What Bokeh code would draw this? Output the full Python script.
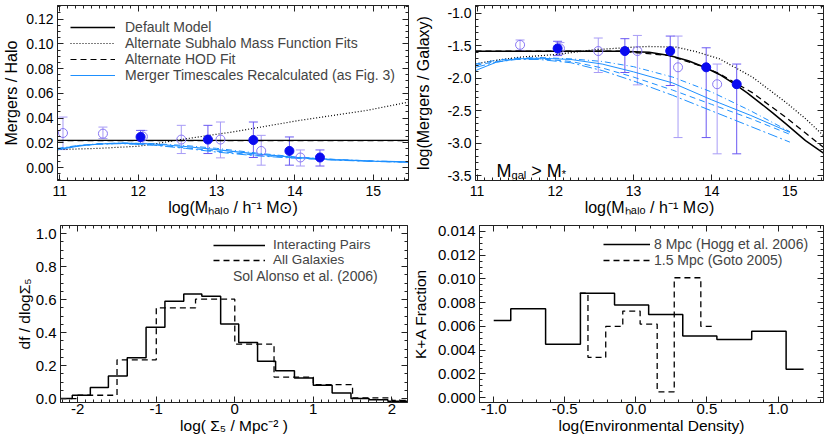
import numpy as np
from bokeh.plotting import figure
from bokeh.models import (ColumnDataSource, Whisker, TeeHead, Label, Legend, LegendItem,
                          FixedTicker, PrintfTickFormatter, LinearAxis, Range1d)
from bokeh.layouts import row, column
from bokeh.embed import file_html
from bokeh.resources import INLINE

# ====================== data ======================
# ---- Panel 1: Mergers / Halo vs log(M_halo)
p1_line_x = [10.97, 15.45]
p1_default_y = [0.0220, 0.0220]
p1_hod_y = [0.0216, 0.0216]
p1_sub_x = [10.97, 11.5, 12.0, 12.25, 12.5, 13.2, 14.06, 14.92, 15.45]
p1_sub_y = [0.0145, 0.0155, 0.0172, 0.0195, 0.0222, 0.0287, 0.0381, 0.0462, 0.0529]
p1_tau_x = [10.97, 11.25, 11.5, 11.8, 12.2, 12.6, 13.0, 13.5, 14.0, 14.5, 15.0, 15.45]
p1_tau_a = [0.0145, 0.0175, 0.0190, 0.0198, 0.0190, 0.0170, 0.0145, 0.0110, 0.0082, 0.0064, 0.0052, 0.0045]
p1_tau_b = [0.0155, 0.0180, 0.0193, 0.0198, 0.0193, 0.0178, 0.0155, 0.0118, 0.0086, 0.0066, 0.0053, 0.0045]
p1_tau_c = [0.0150, 0.0178, 0.0190, 0.0195, 0.0183, 0.0160, 0.0132, 0.0100, 0.0078, 0.0062, 0.0050, 0.0043]
p1_tau_d = [0.0148, 0.0176, 0.0189, 0.0193, 0.0180, 0.0155, 0.0125, 0.0095, 0.0075, 0.0060, 0.0049, 0.0042]
p1_fill_x = [12.03, 12.89, 13.47, 13.93, 14.32]
p1_fill_y = [0.0247, 0.0226, 0.0222, 0.0134, 0.0081]
p1_fill_hi = [0.0300, 0.0341, 0.0368, 0.0247, 0.0142]
p1_fill_lo = [0.0193, 0.0113, 0.0081, 0.0019, 0.0012]
p1_open_x = [11.04, 11.55, 12.06, 12.55, 13.05, 13.57, 14.07]
p1_open_y = [0.0279, 0.0274, 0.0250, 0.0226, 0.0226, 0.0134, 0.0081]
p1_open_hi = [0.0408, 0.0327, 0.0300, 0.0341, 0.0368, 0.0260, 0.0142]
p1_open_lo = [0.0145, 0.0234, 0.0195, 0.0113, 0.0078, 0.0019, 0.0012]

# ---- Panel 2: log(Mergers / Galaxy) vs log(M_halo)
p2_def_x = [10.98, 11.5, 12.0, 12.5, 12.83, 13.2, 13.46, 13.7, 13.91, 14.1, 14.29, 14.45, 14.61, 14.78, 14.95, 15.2, 15.43]
p2_def_y = [-1.583, -1.583, -1.583, -1.583, -1.583, -1.60, -1.649, -1.73, -1.829, -1.94, -2.085, -2.22, -2.368, -2.53, -2.70, -2.957, -3.15]
p2_hod_x = [10.98, 12.0, 12.83, 13.46, 13.91, 14.1, 14.52, 14.95, 15.2, 15.43]
p2_hod_y = [-1.583, -1.583, -1.583, -1.649, -1.829, -1.93, -2.22, -2.60, -2.84, -3.06]
p2_sub_x = [10.98, 11.22, 11.54, 12.0, 12.5, 13.0, 13.2, 13.55, 13.8, 14.1, 14.52, 14.95, 15.2, 15.43]
p2_sub_y = [-1.777, -1.726, -1.675, -1.634, -1.56, -1.52, -1.51, -1.52, -1.59, -1.70, -1.98, -2.37, -2.62, -2.88]
p2_tau_x = [10.98, 11.25, 11.5, 11.8, 12.2, 12.6, 13.0, 13.5, 14.0, 14.5, 15.0]
p2_tau_a = [-1.88, -1.75, -1.70, -1.69, -1.71, -1.78, -1.90, -2.07, -2.33, -2.57, -2.83]
p2_tau_b = [-1.78, -1.72, -1.69, -1.68, -1.70, -1.74, -1.82, -1.98, -2.21, -2.50, -2.82]
p2_tau_c = [-1.80, -1.74, -1.70, -1.70, -1.74, -1.84, -1.98, -2.18, -2.40, -2.62, -2.86]
p2_tau_d = [-1.83, -1.75, -1.71, -1.71, -1.76, -1.88, -2.04, -2.26, -2.50, -2.74, -2.98]
p2_fill_x = [12.03, 12.89, 13.47, 13.93, 14.32]
p2_fill_y = [-1.54, -1.58, -1.58, -1.83, -2.09]
p2_fill_hi = [-1.43, -1.39, -1.35, -1.53, -1.78]
p2_fill_lo = [-1.65, -1.91, -2.11, -2.91, -3.16]
p2_open_x = [11.55, 12.06, 12.55, 13.05, 13.57, 14.07]
p2_open_y = [-1.485, -1.54, -1.58, -1.58, -1.83, -2.09]
p2_open_hi = [-1.41, -1.45, -1.38, -1.34, -1.35, -1.78]
p2_open_lo = [-1.57, -1.63, -1.91, -2.10, -2.91, -3.16]

# ---- Panel 3: df/dlogSigma5 histograms
p3_pairs_edges = [-2.22, -2.07, -1.84, -1.61, -1.37, -1.13, -0.89, -0.65, -0.42, -0.18, 0.05,
                  0.29, 0.52, 0.76, 1.00, 1.24, 1.48, 1.71, 1.95, 2.20]
p3_pairs_vals = [0.0, 0.02, 0.067, 0.137, 0.247, 0.432, 0.59, 0.635, 0.62, 0.452,
                 0.34, 0.226, 0.168, 0.125, 0.08, 0.034, 0.0, -0.007, -0.016]
p3_all_edges = [-2.22, -2.0, -1.5, -1.0, -0.5, 0.0, 0.5, 1.0, 1.5, 2.0, 2.2]
p3_all_vals = [0.0, 0.02, 0.235, 0.55, 0.603, 0.33, 0.13, 0.084, 0.004, -0.012]

# ---- Panel 4: K+A fraction vs environmental density
p4_hogg_edges = [-1.0, -0.88, -0.635, -0.39, -0.15, 0.09, 0.33, 0.57, 0.815, 1.057, 1.18]
p4_hogg_vals = [0.0065, 0.0075, 0.0045, 0.0088, 0.0078, 0.0070, 0.0052, 0.0049, 0.0056, 0.0024]
p4_goto_edges = [-0.395, -0.337, -0.212, -0.092, 0.03, 0.15, 0.27, 0.457, 0.557]
p4_goto_vals = [0.0088, 0.0034, 0.0060, 0.0073, 0.0062, 0.0005, 0.0101, 0.0060]

# ====================== styling ======================
FONT = "Liberation Sans"
AXC = "#222222"
BLUE = "#1E90FF"
PT_FILL = "#0A0AF0"
BAR_FILL = "#6A58F2"
PT_OPEN = "#8877F4"
BAR_OPEN = "#A89CF6"

W = {' ': .278, '*': .389, '>': .584, 'M': .833, 'a': .556, 'g': .556, 'l': .222}


def tw(s, size):
    return sum(W.get(ch, .556) for ch in s) * size


def rich(p, x, y, pieces):
    pos = 0.0
    for t, s, r in pieces:
        lead = len(t) - len(t.lstrip(" "))
        start = pos + tw(" " * lead, s)
        p.add_layout(Label(x=x, y=y, x_offset=start, y_offset=r, text=t.strip(" "),
                           text_font=FONT, text_font_size=f"{s}px", text_align="left",
                           text_baseline="alphabetic", text_color="black"))
        pos += tw(t, s)


def style_axis(ax, ticks, minor, fmt, size, standoff, show=True):
    ax.ticker = FixedTicker(ticks=ticks, minor_ticks=minor)
    ax.formatter = PrintfTickFormatter(format=fmt)
    ax.major_tick_in = 6
    ax.major_tick_out = 0
    ax.minor_tick_in = 3
    ax.minor_tick_out = 0
    ax.axis_line_color = AXC
    ax.major_tick_line_color = AXC
    ax.minor_tick_line_color = AXC
    ax.major_label_text_font = FONT
    if show:
        ax.major_label_text_font_size = f"{size}px"
        ax.major_label_text_color = "black"
        ax.major_label_standoff = standoff
    else:
        ax.major_label_text_font_size = "1px"
        ax.major_label_text_color = None
        ax.major_label_text_alpha = 0
        ax.major_label_standoff = 0


def set_title(ax, text, size, standoff):
    ax.axis_label = text
    ax.axis_label_text_font = FONT
    ax.axis_label_text_font_style = "normal"
    ax.axis_label_text_font_size = f"{size}px"
    ax.axis_label_text_color = "black"
    ax.axis_label_standoff = standoff


def make_fig(width, height, xr, yr, bl, br, bt, bb, xt, xm, xf, yt, ym, yf, fs, xso, yso):
    p = figure(width=width, height=height, x_range=Range1d(*xr), y_range=Range1d(*yr),
               output_backend="svg", toolbar_location=None,
               min_border_left=bl, min_border_right=br, min_border_top=bt, min_border_bottom=bb)
    p.xgrid.visible = False
    p.ygrid.visible = False
    p.outline_line_color = AXC
    p.background_fill_color = "white"
    p.border_fill_color = "white"
    bottom, left = p.below[0], p.left[0]
    style_axis(bottom, xt, xm, xf, fs, xso)
    style_axis(left, yt, ym, yf, fs, yso)
    top = LinearAxis()
    style_axis(top, xt, xm, xf, fs, 0, show=False)
    p.add_layout(top, "above")
    right = LinearAxis()
    style_axis(right, yt, ym, yf, fs, 0, show=False)
    p.add_layout(right, "right")
    return p, bottom, left


def errbars(p, xs, ys, hi, lo, pt_color, bar_color, filled):
    src = ColumnDataSource(dict(x=xs, y=ys, hi=hi, lo=lo))
    p.add_layout(Whisker(source=src, base="x", upper="hi", lower="lo",
                         line_color=bar_color, line_width=1,
                         upper_head=TeeHead(size=9, line_color=bar_color, line_width=1),
                         lower_head=TeeHead(size=9, line_color=bar_color, line_width=1)))
    if filled:
        p.scatter("x", "y", source=src, size=9, marker="circle",
                  fill_color=pt_color, line_color=pt_color)
    else:
        p.scatter("x", "y", source=src, size=9, marker="circle",
                  fill_color=None, line_color=pt_color, line_width=1)


def make_legend(items, loc, gw, standoff, fsize, spacing):
    return Legend(items=items, location=loc, margin=0, padding=0, spacing=spacing,
                  glyph_width=gw, glyph_height=10, label_height=10, label_width=10,
                  label_standoff=standoff, label_text_font=FONT,
                  label_text_font_size=fsize, border_line_color=None,
                  background_fill_alpha=0, inactive_fill_alpha=0)


TOP_H, BOT_H = 220, 223
MHALO = "log(M\u2095\u2090\u2097\u2092 / h\u207b\u00b9 M\u2299)"

# ---------------- Panel 1 ----------------
p1_xr = (10.97, 15.45)
p1_yr = (-0.0105, 0.131)
p1, p1b, p1l = make_fig(410, TOP_H, p1_xr, p1_yr, 57, 2, 5, 40,
                        [11, 12, 13, 14, 15], list(np.arange(11.0, 15.45, 0.1)), "%d",
                        [0.0, 0.02, 0.04, 0.06, 0.08, 0.10, 0.12],
                        list(np.arange(-0.01, 0.131, 0.005)), "%.2f", 14, 5, 4)
set_title(p1b, MHALO, 16, 0)
set_title(p1l, "Mergers / Halo", 16, 3)
r1_def = p1.line(p1_line_x, p1_default_y, line_color="black", line_width=1.3)
r1_hod = p1.line(p1_line_x, p1_hod_y, line_color="black", line_width=1.1, line_dash="6 4")
r1_sub = p1.line(p1_sub_x, p1_sub_y, line_color="black", line_width=1.2, line_dash="1 2")
r1_ta = p1.line(p1_tau_x, p1_tau_a, line_color=BLUE, line_width=1.2)
p1.line(p1_tau_x, p1_tau_b, line_color=BLUE, line_width=1, line_dash="6 3 1 3")
p1.line(p1_tau_x, p1_tau_c, line_color=BLUE, line_width=1, line_dash="6 4")
p1.line(p1_tau_x, p1_tau_d, line_color=BLUE, line_width=1, line_dash="10 3 2 3")
errbars(p1, p1_open_x, p1_open_y, p1_open_hi, p1_open_lo, PT_OPEN, BAR_OPEN, False)
errbars(p1, p1_fill_x, p1_fill_y, p1_fill_hi, p1_fill_lo, PT_FILL, BAR_FILL, True)
p1.add_layout(make_legend(
    [LegendItem(label="Default Model", renderers=[r1_def]),
     LegendItem(label="Alternate Subhalo Mass Function Fits", renderers=[r1_sub]),
     LegendItem(label="Alternate HOD Fit", renderers=[r1_hod]),
     LegendItem(label="Merger Timescales Recalculated (as Fig. 3)", renderers=[r1_ta])],
    (13, 97), 45, 10, "14px", 0))

# ---------------- Panel 2 ----------------
p2_xr = (10.98, 15.43)
p2_yr = (-3.57, -0.88)
p2, p2b, p2l = make_fig(420, TOP_H, p2_xr, p2_yr, 65, 7, 5, 40,
                        [11, 12, 13, 14, 15], list(np.arange(11.0, 15.43, 0.1)), "%d",
                        [-3.5, -3.0, -2.5, -2.0, -1.5, -1.0],
                        list(np.arange(-3.5, -0.88, 0.1)), "%.1f", 14, 5, 4)
set_title(p2b, MHALO, 16, 0)
set_title(p2l, "log(Mergers / Galaxy)", 16, 12)
p2.line(p2_def_x, p2_def_y, line_color="black", line_width=1.5)
p2.line(p2_hod_x, p2_hod_y, line_color="black", line_width=1.3, line_dash="6 4")
p2.line(p2_sub_x, p2_sub_y, line_color="black", line_width=1.3, line_dash="1 2")
p2.line(p2_tau_x, p2_tau_a, line_color=BLUE, line_width=1)
p2.line(p2_tau_x, p2_tau_b, line_color=BLUE, line_width=1, line_dash="6 3 1 3")
p2.line(p2_tau_x, p2_tau_c, line_color=BLUE, line_width=1, line_dash="6 4")
p2.line(p2_tau_x, p2_tau_d, line_color=BLUE, line_width=1, line_dash="10 3 2 3")
errbars(p2, p2_open_x, p2_open_y, p2_open_hi, p2_open_lo, PT_OPEN, BAR_OPEN, False)
errbars(p2, p2_fill_x, p2_fill_y, p2_fill_hi, p2_fill_lo, PT_FILL, BAR_FILL, True)
rich(p2, 11.25, -3.42, [("M", 18, 0), ("gal", 11, -4), (" > ", 18, 0), ("M", 18, 0), ("*", 11, -3)])

# ---------------- Panel 3 ----------------
p3_xr = (-2.22, 2.2)
p3_yr = (-0.024, 1.05)
p3, p3b, p3l = make_fig(408, BOT_H, p3_xr, p3_yr, 60, 1, 5, 41,
                        [-2, -1, 0, 1, 2], list(np.arange(-2.2, 2.21, 0.1)), "%d",
                        [0.0, 0.2, 0.4, 0.6, 0.8, 1.0],
                        list(np.arange(0.0, 1.05, 0.05)), "%.1f", 15, 1, 4)
set_title(p3b, "log( \u03a3\u2085 / Mpc\u207b\u00b2 )", 15.5, 0)
set_title(p3l, "df / dlog\u03a3\u2085", 15.5, 0)
r3_pairs = p3.step(p3_pairs_edges, p3_pairs_vals + [p3_pairs_vals[-1]], mode="after",
                   line_color="black", line_width=1.5)
r3_all = p3.step(p3_all_edges, p3_all_vals + [p3_all_vals[-1]], mode="after",
                 line_color="black", line_width=1.3, line_dash="6 4")
p3.add_layout(make_legend(
    [LegendItem(label="Interacting Pairs", renderers=[r3_pairs]),
     LegendItem(label="All Galaxies", renderers=[r3_all])],
    (153, 135), 52, 8, "13.5px", 0))
p3.add_layout(Label(x=1.83, y=0.745, text="Sol Alonso et al. (2006)", text_font=FONT,
                    text_font_size="14px", text_align="right", text_baseline="alphabetic"))

# ---------------- Panel 4 ----------------
p4_xr = (-1.1, 1.32)
p4_yr = (-0.0004, 0.0145)
p4, p4b, p4l = make_fig(422, BOT_H, p4_xr, p4_yr, 66, 7, 5, 41,
                        [-1.0, -0.5, 0.0, 0.5, 1.0], list(np.arange(-1.1, 1.32, 0.1)), "%.1f",
                        [0.0, 0.002, 0.004, 0.006, 0.008, 0.010, 0.012, 0.014],
                        list(np.arange(0.0, 0.0145, 0.0005)), "%.3f", 15, 1, 4)
set_title(p4b, "log(Environmental Density)", 15.5, 0)
set_title(p4l, "K+A Fraction", 15.5, 6)
r4_hogg = p4.step(p4_hogg_edges, p4_hogg_vals + [p4_hogg_vals[-1]], mode="after",
                  line_color="black", line_width=1.5)
r4_goto = p4.step(p4_goto_edges, p4_goto_vals + [p4_goto_vals[-1]], mode="after",
                  line_color="black", line_width=1.3, line_dash="6 4")
p4.add_layout(make_legend(
    [LegendItem(label="8 Mpc (Hogg et al. 2006)", renderers=[r4_hogg]),
     LegendItem(label="1.5 Mpc (Goto 2005)", renderers=[r4_goto])],
    (124, 134), 47, 4, "14px", 0))

layout = column(row(p1, p2), row(p3, p4))
open("out.html", "w").write(file_html(layout, INLINE))
